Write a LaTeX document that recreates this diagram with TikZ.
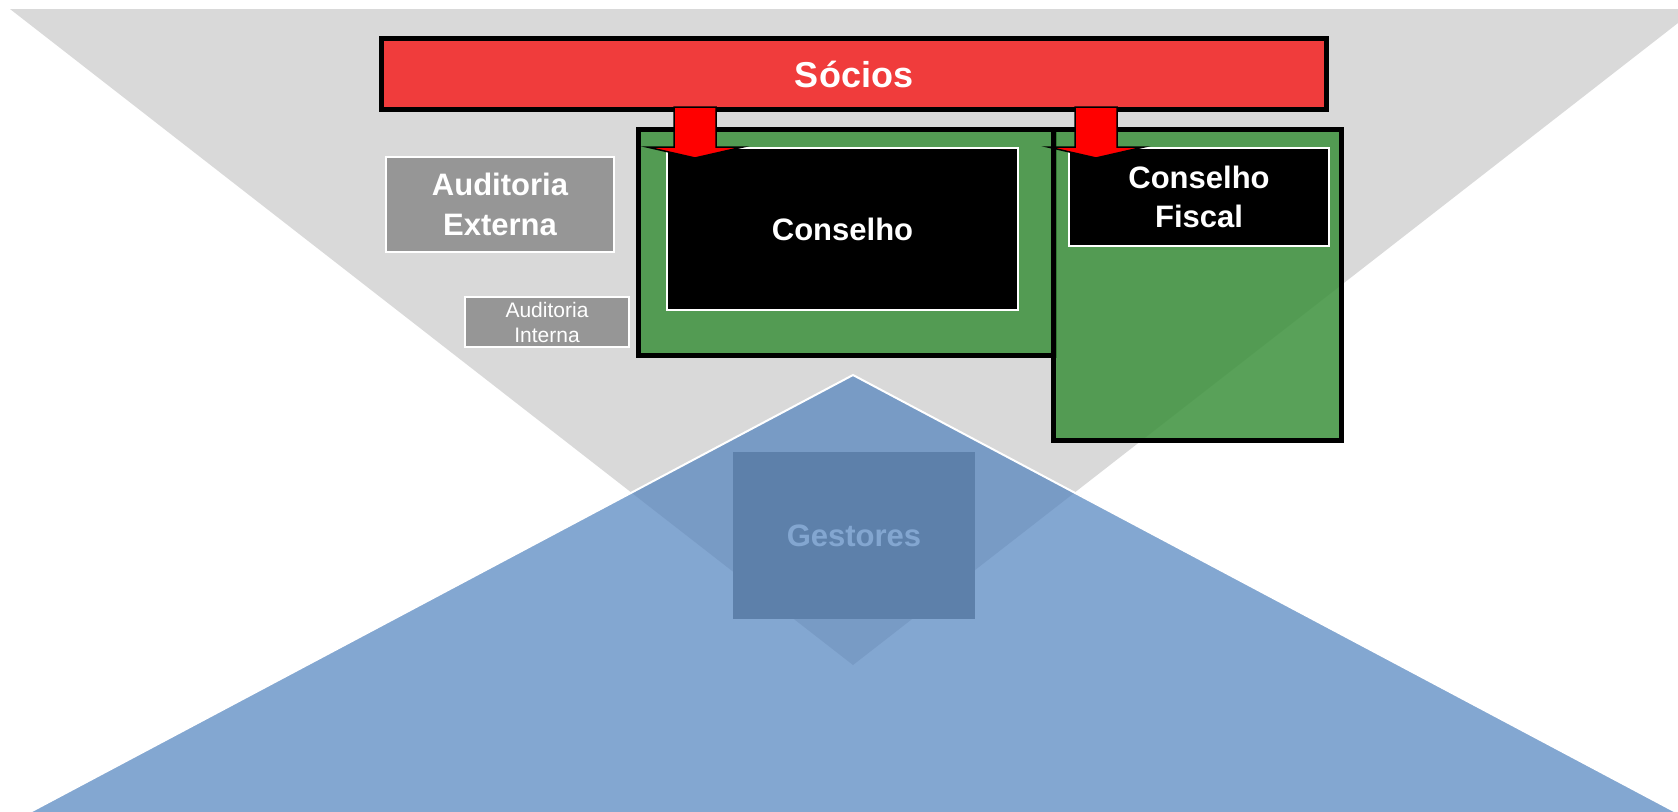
\documentclass[tikz,border=0pt]{standalone}
\usepackage{fontspec}
\setmainfont{Liberation Sans}
\usetikzlibrary{calc}
\definecolor{tricol}{RGB}{217,217,217}
\definecolor{soccol}{RGB}{240,60,60}
\definecolor{audcol}{RGB}{150,150,150}
\definecolor{grncol}{RGB}{60,145,60}
\definecolor{blucol}{RGB}{79,129,189}
\definecolor{gescol}{RGB}{128,128,128}
\begin{document}
\begin{tikzpicture}[x=1pt,y=-1pt,
  box/.style={rectangle, inner sep=0pt, outer sep=0pt, align=center, text=white},
  bigtxt/.style={font=\fontsize{31}{40}\selectfont\bfseries},
  audbox/.style={box, fill=audcol, draw=white, line width=2pt},
  grnbox/.style={box, fill=grncol, fill opacity=0.85, draw=black, draw opacity=1, line width=5pt},
  blkbox/.style={box, fill=black, draw=white, line width=2pt},
  blockarrow/.style={fill=red, draw=black, line width=1.5pt, line join=miter}
]
\useasboundingbox (0,0) rectangle (1678,811);
% background inverted triangle
\fill[tricol] (10,9) -- (1696,9) -- (853,665) -- cycle;
% Socios
\node[box, fill=soccol, draw=black, line width=5pt, minimum width=945pt, minimum height=71pt,
  font=\fontsize{36}{43}\selectfont\bfseries] (socios) at (854,74) {Sócios};
% auditing boxes
\node[audbox, bigtxt, minimum width=228pt, minimum height=95pt] (audext) at (500,204.5) {Auditoria\\Externa};
\node[audbox, font=\fontsize{21}{25}\selectfont, minimum width=164pt, minimum height=50pt] (audint) at (547,322) {Auditoria\\Interna};
% green frames
\node[grnbox, minimum width=416pt, minimum height=226pt] (conselhoG) at (846.5,242.5) {};
\node[grnbox, minimum width=288pt, minimum height=311pt] (fiscalG) at (1197.5,285) {};
% black boards
\node[blkbox, bigtxt, minimum width=351pt, minimum height=162pt] (conselho) at (842.5,229) {Conselho};
\node[blkbox, font=\fontsize{31}{39}\selectfont\bfseries, minimum width=260pt, minimum height=98pt] (fiscal) at (1199,197) {Conselho\\Fiscal};
% block arrows from Socios
\coordinate (a1) at (695,107);
\coordinate (a2) at (1096,107);
\draw[blockarrow] (a1) ++(-21,0) -- ++(0,40) -- ++(-27,0) -- ++(48,11) -- ++(48,-11) -- ++(-27,0) -- ++(0,-40) -- cycle;
\draw[blockarrow] (a2) ++(-21,0) -- ++(0,40) -- ++(-27,0) -- ++(48,11) -- ++(48,-11) -- ++(-27,0) -- ++(0,-40) -- cycle;
% Gestores box (behind translucent triangle)
\node[box, fill=gescol, bigtxt, minimum width=242pt, minimum height=167pt] (gestores) at (854,535.5) {Gestores};
% blue triangle
\fill[blucol, fill opacity=0.7] (853,375) -- (15,820) -- (1691,820) -- cycle;
\draw[white, line width=2pt, line join=miter] (15,820) -- (853,375) -- (1691,820);
\end{tikzpicture}
\end{document}
